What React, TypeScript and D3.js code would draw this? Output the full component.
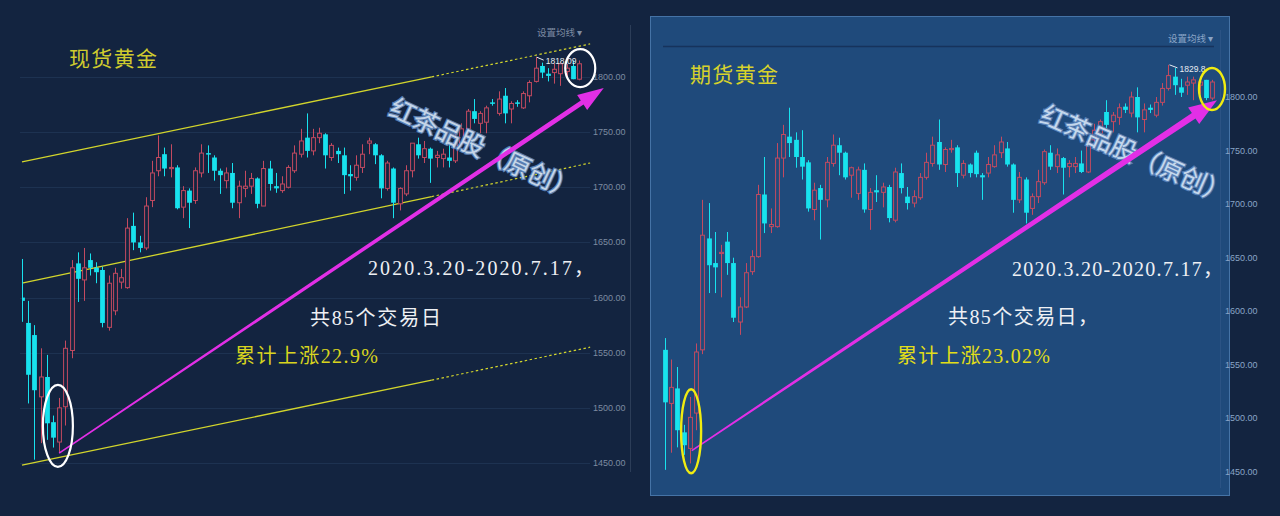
import React from 'react';
import * as d3 from 'd3';

// ---------- data: spot gold (left) ----------
const spotOpen = [1600,1577,1566,1510,1528,1487,1469,1501,1552,1631,1616,1634,1627,1625,1573,1588,1614,1609,1665,1650,1645,1688,1715,1730,1717,1718,1682,1697,1688,1713,1731,1727,1715,1706,1713,1686,1699,1701,1708,1683,1717,1701,1697,1700,1715,1730,1745,1733,1745,1748,1727,1733,1729,1712,1709,1718,1740,1739,1729,1699,1717,1685,1694,1715,1739,1727,1735,1727,1726,1727,1724,1740,1753,1769,1758,1759,1777,1767,1783,1771,1777,1772,1783,1796,1810,1803,1804,1803,1805,1810,1798];
const spotHigh = [1635,1597,1575,1554,1548,1493,1509,1561,1634,1641,1645,1640,1632,1628,1620,1627,1626,1672,1677,1656,1691,1724,1747,1736,1739,1720,1701,1699,1718,1739,1738,1729,1717,1718,1722,1706,1715,1713,1709,1724,1724,1713,1710,1720,1738,1753,1767,1753,1754,1749,1740,1736,1736,1720,1729,1739,1745,1740,1730,1724,1718,1700,1720,1740,1745,1742,1736,1733,1735,1739,1751,1758,1771,1780,1769,1774,1780,1787,1790,1778,1779,1787,1797,1818,1813,1808,1812,1813,1812,1815,1815];
const spotLow = [1578,1504,1453,1468,1471,1464,1459,1484,1545,1596,1597,1620,1613,1573,1570,1584,1608,1608,1643,1641,1643,1682,1710,1710,1709,1680,1672,1663,1685,1709,1713,1706,1694,1699,1681,1672,1691,1694,1681,1683,1697,1695,1695,1699,1713,1727,1727,1729,1740,1717,1724,1722,1694,1697,1706,1713,1730,1721,1690,1697,1672,1679,1692,1709,1726,1722,1704,1718,1718,1718,1722,1739,1751,1758,1749,1749,1774,1765,1758,1758,1773,1771,1777,1795,1799,1796,1794,1792,1800,1798,1797];
const spotClose = [1597,1530,1516,1528,1486,1473,1500,1554,1627,1617,1627,1627,1623,1577,1613,1622,1618,1663,1650,1645,1683,1713,1727,1717,1718,1681,1697,1686,1715,1731,1730,1715,1711,1713,1686,1701,1701,1708,1685,1717,1703,1699,1703,1718,1731,1742,1733,1745,1749,1729,1738,1730,1711,1710,1720,1730,1742,1729,1699,1722,1686,1699,1715,1740,1729,1735,1726,1729,1730,1724,1740,1753,1769,1762,1767,1772,1776,1780,1767,1776,1776,1785,1795,1808,1804,1801,1807,1812,1808,1798,1812];

// ---------- data: gold futures (right) ----------
const futOpen = [1564,1514,1528,1487,1472,1505,1564,1668,1645,1654,1665,1645,1590,1604,1637,1651,1709,1679,1679,1743,1763,1760,1744,1739,1695,1715,1704,1738,1755,1748,1727,1710,1732,1695,1713,1711,1716,1685,1729,1707,1701,1706,1725,1738,1758,1737,1751,1753,1727,1737,1748,1727,1729,1735,1748,1752,1737,1704,1723,1696,1707,1720,1748,1735,1743,1735,1735,1738,1730,1760,1766,1786,1777,1781,1791,1785,1800,1779,1790,1783,1795,1808,1819,1809,1811,1813,1811,1816,1799];
const futHigh = [1575,1555,1548,1494,1520,1570,1704,1701,1674,1662,1674,1650,1613,1645,1657,1718,1744,1696,1757,1774,1790,1767,1769,1741,1720,1718,1744,1765,1762,1749,1735,1735,1738,1715,1727,1720,1718,1734,1738,1716,1713,1729,1748,1763,1779,1753,1760,1755,1741,1738,1750,1729,1744,1755,1763,1758,1738,1730,1725,1710,1732,1751,1755,1752,1744,1741,1744,1750,1760,1775,1779,1797,1786,1794,1794,1805,1809,1794,1793,1800,1813,1830,1827,1817,1819,1819,1819,1816,1816];
const futLow = [1452,1468,1473,1466,1458,1489,1560,1617,1617,1613,1634,1590,1578,1603,1634,1650,1673,1673,1678,1725,1744,1734,1723,1693,1685,1667,1697,1735,1727,1723,1706,1704,1692,1676,1702,1697,1683,1683,1710,1695,1697,1704,1723,1735,1732,1730,1748,1716,1724,1725,1725,1704,1725,1734,1743,1735,1692,1701,1682,1690,1701,1718,1732,1729,1709,1725,1729,1729,1729,1757,1764,1771,1767,1774,1785,1781,1767,1767,1785,1781,1792,1806,1802,1800,1802,1797,1803,1797,1797];
const futClose = [1515,1529,1489,1475,1501,1562,1671,1643,1641,1655,1645,1594,1604,1636,1651,1709,1682,1681,1743,1765,1757,1744,1735,1696,1713,1704,1739,1755,1748,1725,1734,1732,1695,1711,1711,1716,1687,1730,1715,1701,1707,1725,1739,1755,1737,1751,1752,1729,1738,1729,1728,1725,1737,1746,1758,1737,1704,1725,1692,1707,1721,1749,1735,1746,1734,1738,1738,1730,1758,1769,1777,1774,1783,1790,1788,1800,1781,1788,1788,1795,1808,1820,1811,1804,1814,1816,1814,1799,1814];

const priceTicks = [1450, 1500, 1550, 1600, 1650, 1700, 1750, 1800];

// channel lines on the spot chart: [index, price] at start and end
const channelStartIdx = 0;
const channelSolidEndIdx = 66.2;
const channelEndIdx = 91.8;
const channelUpper = [1723, 1830];
const channelMiddle = [1613, 1722];
const channelLower = [1448, 1555];

const spotTitle = '现货黄金';
const futTitle = '期货黄金';
const dateText = '2020.3.20-2020.7.17，';
const spotDaysText = '共85个交易日';
const futDaysText = '共85个交易日，';
const spotGainText = '累计上涨22.9%';
const futGainText = '累计上涨23.02%';
const watermark = '红茶品股（原创）';
const spotHighLabel = '1818.09';
const futHighLabel = '1829.8';
const maLabel = '设置均线 ▾';

// ---------- styles ----------
const BG = '#132440';
const PANEL = '#1f4a7b';
const UP = '#c44a60';
const DOWN = '#18e2ee';
const MAGENTA = '#e22fe6';
const YELLOW_LINE = '#d2d52c';
const CJK = "'Noto Sans CJK SC', sans-serif";
const SERIF = "'Liberation Serif', 'Noto Sans CJK SC', serif";
const SANS = "'Liberation Sans', 'DejaVu Sans', sans-serif";

type Lin = d3.ScaleLinear<number, number>;

function Candles({ o, h, l, c, x, y, bg, bw }: { o: number[]; h: number[]; l: number[]; c: number[]; x: Lin; y: Lin; bg: string; bw: number }) {
  return (
    <g>
      {o.map((op, i) => {
        const cx = Math.round(x(i)) + 0.5;
        const up = c[i] >= op;
        const top = y(Math.max(op, c[i]));
        const bot = y(Math.min(op, c[i]));
        const hh = Math.max(bot - top, 1.2);
        if (up) {
          return (
            <g key={i} stroke={UP} strokeWidth={1}>
              <line x1={cx} x2={cx} y1={y(h[i])} y2={top} />
              <line x1={cx} x2={cx} y1={top + hh} y2={y(l[i])} />
              <rect x={cx - bw / 2 + 0.5} y={top} width={bw - 1} height={hh} fill={bg} />
            </g>
          );
        }
        return (
          <g key={i}>
            <line x1={cx} x2={cx} y1={y(h[i])} y2={y(l[i])} stroke={DOWN} strokeWidth={1} />
            <rect x={cx - bw / 2} y={top} width={bw} height={Math.max(hh, 1.5)} fill={DOWN} />
          </g>
        );
      })}
    </g>
  );
}

function arrowPoints(x0: number, y0: number, x1: number, y1: number, w0: number, w1: number, headLen: number, headW: number) {
  const dx = x1 - x0, dy = y1 - y0;
  const L = Math.hypot(dx, dy);
  const ux = dx / L, uy = dy / L;
  const px = -uy, py = ux;
  const bx = x1 - ux * headLen, by = y1 - uy * headLen;
  const pts = [
    [x0 + px * w0 / 2, y0 + py * w0 / 2],
    [bx + px * w1 / 2, by + py * w1 / 2],
    [bx + px * headW / 2, by + py * headW / 2],
    [x1, y1],
    [bx - px * headW / 2, by - py * headW / 2],
    [bx - px * w1 / 2, by - py * w1 / 2],
    [x0 - px * w0 / 2, y0 - py * w0 / 2],
  ];
  return pts.map(p => p.join(',')).join(' ');
}

function Watermark({ x, y, angle, len }: { x: number; y: number; angle: number; len: number }) {
  return (
    <text
      transform={`translate(${x},${y}) rotate(${angle})`}
      dominantBaseline="central"
      fontFamily={CJK}
      fontSize={26}
      fill="#d3e3f6"
      stroke="#5f85bb"
      strokeWidth={2.4}
      paintOrder="stroke"
      opacity={0.92}
      textLength={len}
      lengthAdjust="spacing"
    >
      {watermark}
    </text>
  );
}

export default function App() {
  const fmt = d3.format('.2f');

  // spot scales
  const sx = d3.scaleLinear().domain([0, 90]).range([22, 579]);
  const sy = d3.scaleLinear().domain([1450, 1800]).range([463, 77]);
  // futures scales
  const fx = d3.scaleLinear().domain([0, 88]).range([665, 1212]);
  const fy = d3.scaleLinear().domain([1450, 1800]).range([472, 97]);

  const chan = (p: number[]) => {
    const k = (channelSolidEndIdx - channelStartIdx) / (channelEndIdx - channelStartIdx);
    const pm = p[0] + (p[1] - p[0]) * k;
    return {
      solid: [sx(channelStartIdx), sy(p[0]), sx(channelSolidEndIdx), sy(pm)],
      dash: [sx(channelSolidEndIdx), sy(pm), sx(channelEndIdx), sy(p[1])],
    };
  };
  const channels = [channelUpper, channelMiddle, channelLower].map(chan);

  const spotHiIdx = spotHigh.indexOf(d3.max(spotHigh)!);
  const futHiIdx = futHigh.indexOf(d3.max(futHigh)!);

  return (
    <div style={{ position: 'absolute', left: 0, top: 0, width: 1280, height: 516, overflow: 'hidden' }}>
      <svg width={1280} height={516} style={{ display: 'block' }}>
        <defs>
          <clipPath id="spotClip">
            <rect x={22} y={0} width={580} height={516} />
          </clipPath>
        </defs>
        <rect x={0} y={0} width={1280} height={516} fill={BG} />

        {/* ================= LEFT: spot ================= */}
        <g>
          {priceTicks.map(t => (
            <line key={t} x1={20} x2={590} y1={Math.round(sy(t)) + 0.5} y2={Math.round(sy(t)) + 0.5} stroke="#1d3251" strokeWidth={1} />
          ))}
          <line x1={630.5} x2={630.5} y1={25} y2={472} stroke="#2c3d58" strokeWidth={1} />
          {priceTicks.map(t => (
            <text key={t} x={593} y={sy(t)} dominantBaseline="central" fontFamily={SANS} fontSize={9} fill="#7d8ba0">{fmt(t)}</text>
          ))}
          <text x={537} y={32} dominantBaseline="central" fontFamily={CJK} fontSize={9.5} fill="#7c8aa0">{maLabel}</text>

          {channels.map((c, i) => (
            <g key={i} stroke={YELLOW_LINE} fill="none">
              <line x1={c.solid[0]} y1={c.solid[1]} x2={c.solid[2]} y2={c.solid[3]} strokeWidth={1.3} />
              <line x1={c.dash[0]} y1={c.dash[1]} x2={c.dash[2]} y2={c.dash[3]} strokeWidth={1.2} strokeDasharray="2.5,2.5" />
            </g>
          ))}

          <g clipPath="url(#spotClip)">
            <Candles o={spotOpen} h={spotHigh} l={spotLow} c={spotClose} x={sx} y={sy} bg={BG} bw={4.8} />
          </g>

          {/* high marker */}
          <line x1={sx(spotHiIdx) + 1} y1={sy(spotHigh[spotHiIdx])} x2={sx(spotHiIdx) + 8} y2={sy(spotHigh[spotHiIdx]) + 3} stroke="#e8ecf2" strokeWidth={1} />
          <text x={sx(spotHiIdx) + 10} y={sy(spotHigh[spotHiIdx]) + 4} dominantBaseline="central" fontFamily={SANS} fontSize={8.5} fill="#e8ecf2">{spotHighLabel}</text>

          <Watermark x={392} y={104} angle={25} len={204} />

          <polygon points={arrowPoints(sx(6), sy(1459), sx(94), sy(1790), 1.6, 5, 26, 18)} fill={MAGENTA} />

          <ellipse cx={sx(5.8)} cy={sy(1483.6)} rx={15} ry={41} fill="none" stroke="#ffffff" strokeWidth={2.2} />
          <ellipse cx={sx(90.2)} cy={sy(1808)} rx={15} ry={19} fill="none" stroke="#ffffff" strokeWidth={2.2} />

          <text x={69} y={57} dominantBaseline="central" fontFamily={CJK} fontSize={21} fill="#cfcb2e" textLength={88} lengthAdjust="spacing">{spotTitle}</text>
          <text x={368} y={268} dominantBaseline="central" fontFamily={SERIF} fontSize={20} fill="#eef0f4" textLength={226} lengthAdjust="spacing">{dateText}</text>
          <text x={310} y={318} dominantBaseline="central" fontFamily={SERIF} fontSize={20} fill="#eef0f4" textLength={131} lengthAdjust="spacing">{spotDaysText}</text>
          <text x={235} y={356} dominantBaseline="central" fontFamily={SERIF} fontSize={20} fill="#d8d41e" textLength={143} lengthAdjust="spacing">{spotGainText}</text>
        </g>

        {/* ================= RIGHT: futures ================= */}
        <g>
          <rect x={650.5} y={16.5} width={579} height={479} fill={PANEL} stroke="#4573a6" strokeWidth={1} />
          <line x1={663} x2={1214} y1={46.5} y2={46.5} stroke="#16335c" strokeWidth={1.5} />
          <line x1={1220.5} x2={1220.5} y1={30} y2={488} stroke="#2b5384" strokeWidth={1} />
          {priceTicks.map(t => (
            <text key={t} x={1225} y={fy(t)} dominantBaseline="central" fontFamily={SANS} fontSize={9} fill="#8aa4c6">{fmt(t)}</text>
          ))}
          <text x={1168} y={38} dominantBaseline="central" fontFamily={CJK} fontSize={9.5} fill="#8aa4c6">{maLabel}</text>

          <Candles o={futOpen} h={futHigh} l={futLow} c={futClose} x={fx} y={fy} bg={PANEL} bw={4.8} />

          <line x1={fx(futHiIdx) + 1} y1={fy(futHigh[futHiIdx])} x2={fx(futHiIdx) + 9} y2={fy(futHigh[futHiIdx]) + 3} stroke="#e8ecf2" strokeWidth={1} />
          <text x={fx(futHiIdx) + 11} y={fy(futHigh[futHiIdx]) + 4} dominantBaseline="central" fontFamily={SANS} fontSize={8.5} fill="#e8ecf2">{futHighLabel}</text>

          <Watermark x={1043} y={111} angle={24} len={204} />

          <polygon points={arrowPoints(fx(4.3), fy(1470), fx(88.8), fy(1797), 1.5, 6.5, 28, 20)} fill={MAGENTA} />

          <ellipse cx={fx(4.2)} cy={fy(1488)} rx={10} ry={42} fill="none" stroke="#f0ec10" strokeWidth={2.4} />
          <ellipse cx={fx(88)} cy={fy(1807.5)} rx={13} ry={21} fill="none" stroke="#f0ec10" strokeWidth={2.4} />

          <text x={690} y={73} dominantBaseline="central" fontFamily={CJK} fontSize={21} fill="#d6d22c" textLength={88} lengthAdjust="spacing">{futTitle}</text>
          <text x={1012} y={269} dominantBaseline="central" fontFamily={SERIF} fontSize={20} fill="#eef0f4" textLength={211} lengthAdjust="spacing">{dateText}</text>
          <text x={948} y={317} dominantBaseline="central" fontFamily={SERIF} fontSize={20} fill="#eef0f4" textLength={150} lengthAdjust="spacing">{futDaysText}</text>
          <text x={897} y={356} dominantBaseline="central" fontFamily={SERIF} fontSize={20} fill="#e2de18" textLength={153} lengthAdjust="spacing">{futGainText}</text>
        </g>
      </svg>
    </div>
  );
}
